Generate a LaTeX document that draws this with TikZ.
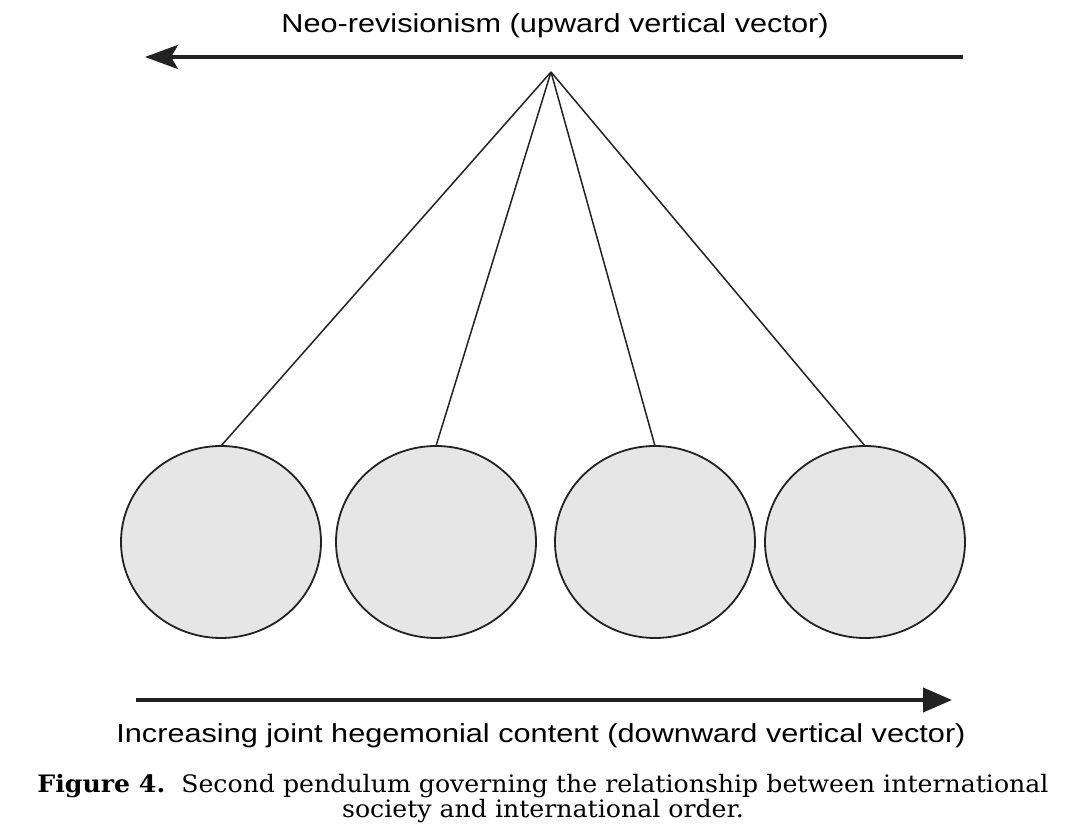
\documentclass[tikz,border=0pt]{standalone}
\usepackage{fontspec}
\setsansfont{Liberation Sans}
\newfontfamily\capfont{DejaVu Serif}
\usepackage{tikz}
\usetikzlibrary{positioning,arrows.meta,shapes.geometric}
\definecolor{inkgray}{RGB}{34,34,34}
\definecolor{ballfill}{RGB}{230,230,230}

\begin{document}
\begin{tikzpicture}[x=1pt, y=1pt, ball/.style={ellipse, draw=inkgray, fill=ballfill, line width=1.8pt, minimum width=200pt, minimum height=192pt, inner sep=0pt, outer sep=0pt}, string/.style={draw=inkgray, line width=1.5pt}, vector/.style={line width=4pt, draw=inkgray}, label/.style={font=\sffamily\fontsize{26}{30}\selectfont, inner sep=0pt, anchor=base, xscale=1.18, transform shape}]
\useasboundingbox (0,0) rectangle (1080,836);
% the pendulum
\coordinate (pivot) at (551,764);
\node[ball] (ball1) at (221,294) {};
\node[ball, right=15pt of ball1] (ball2) {};
\node[ball, right=19pt of ball2] (ball3) {};
\node[ball, right=10pt of ball3] (ball4) {};
\draw[string] (pivot) -- (ball1.north);
\draw[string] (pivot) -- (ball2.north);
\draw[string] (pivot) -- (ball3.north);
\draw[string] (pivot) -- (ball4.north);
% the two vectors
\coordinate (upstart) at (963,779);
\coordinate (upend) at (145,779);
\coordinate (downstart) at (136,136);
\coordinate (downend) at (952,136);
\draw[vector, -{Stealth[length=33pt, width=24pt, inset=7pt]}] (upstart) -- (upend);
\draw[vector, -{Triangle[length=29pt, width=24pt]}] (downstart) -- (downend);
\node[label] (uplabel) at (555,803) {Neo-revisionism (upward vertical vector)};
\node[label] (downlabel) at (541,93) {Increasing joint hegemonial content (downward vertical vector)};
% caption
\node[font=\capfont\fontsize{24}{23}\selectfont, align=center, inner sep=0pt, anchor=north, xscale=1.05, transform shape] (caption) at (543,62) {\textbf{Figure 4.}\ \ Second pendulum governing the relationship between international\\society and international order.};
\end{tikzpicture}
\end{document}
